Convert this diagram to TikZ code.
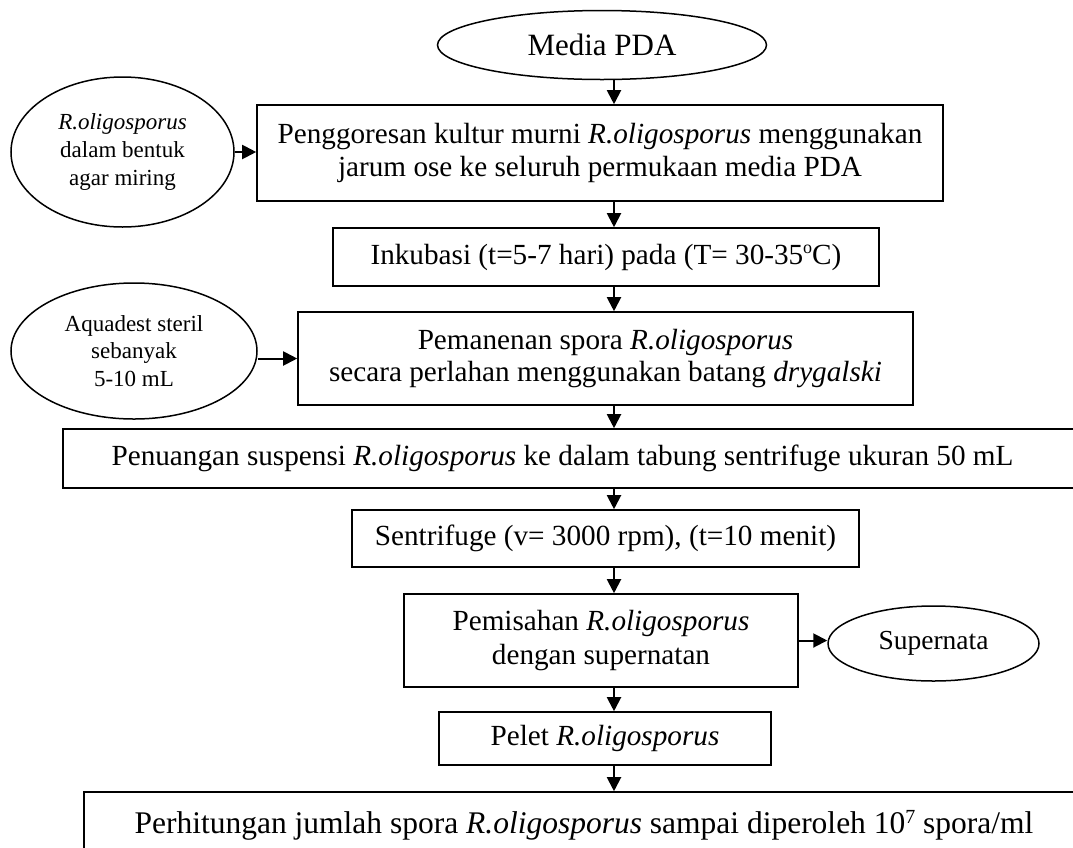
\documentclass[tikz,border=0pt]{standalone}
\usepackage{fontspec}
\setmainfont{Liberation Serif}
\usetikzlibrary{shapes.geometric,arrows.meta}
\tikzset{
  stepbox/.style={draw, line width=1.6pt, rectangle, inner sep=0pt, align=center,
    font=\fontsize{29.2}{32.5}\selectfont},
  oval/.style={draw, line width=1.5pt, ellipse, inner sep=0pt, align=center},
  arr/.style={line width=2pt, -{Triangle[length=14pt,width=14pt]}}
}
\begin{document}
\begin{tikzpicture}[x=1pt,y=-1pt]
\useasboundingbox (0,0) rectangle (1073,847);
\clip (0,0) rectangle (1073,847);
\coordinate (c) at (614,0);
\node[oval, minimum width=329pt, minimum height=69pt, font=\fontsize{31}{36}\selectfont] (media) at (602,45) {Media PDA};
\node[stepbox, minimum width=686pt, minimum height=96pt] (b1) at (600,153)
  {Penggoresan kultur murni \textit{R.oligosporus} menggunakan\\jarum ose ke seluruh permukaan media PDA};
\node[oval, minimum width=223pt, minimum height=150pt, font=\fontsize{23}{28}\selectfont] (e1) at (122.5,152)
  {\textit{R.oligosporus}\\dalam bentuk\\agar miring};
\node[stepbox, minimum width=546pt, minimum height=58pt] (b2) at (606,257)
  {Inkubasi (t=5-7 hari) pada (T= 30-35\raisebox{11pt}{\fontsize{18}{18}\selectfont o}C)};
\node[stepbox, minimum width=615pt, minimum height=93pt] (b3) at (605.5,358.5)
  {Pemanenan spora \textit{R.oligosporus}\\secara perlahan menggunakan batang \textit{drygalski}};
\node[oval, minimum width=246pt, minimum height=136pt, font=\fontsize{23}{27.5}\selectfont] (e2) at (134,351)
  {Aquadest steril\\sebanyak\\5-10 mL};
\node[stepbox, minimum width=1027pt, minimum height=59pt] (b4) at (576.5,458.5)
  {Penuangan suspensi \textit{R.oligosporus} ke dalam tabung sentrifuge ukuran 50 mL\hspace*{28pt}};
\node[stepbox, minimum width=507pt, minimum height=57pt] (b5) at (605.5,538.5)
  {Sentrifuge (v= 3000 rpm), (t=10 menit)};
\node[stepbox, minimum width=394pt, minimum height=93pt, font=\fontsize{29.2}{34.5}\selectfont] (b6) at (601,640.5)
  {Pemisahan \textit{R.oligosporus}\\dengan supernatan};
\node[oval, minimum width=211pt, minimum height=75pt, font=\fontsize{27.5}{32}\selectfont] (sup) at (933.5,643.5) {Supernata};
\node[stepbox, minimum width=332pt, minimum height=53pt] (b7) at (605,738.5)
  {Pelet \textit{R.oligosporus}};
\node[stepbox, minimum width=1016pt, minimum height=66pt, font=\fontsize{31.5}{36}\selectfont] (b8) at (592,825)
  {Perhitungan jumlah spora \textit{R.oligosporus} sampai diperoleh 10\raisebox{10pt}{\fontsize{20}{20}\selectfont 7} spora/ml\hspace*{16pt}};
\draw[arr] (media.south -| c) -- (b1.north -| c);
\draw[arr] (b1.south -| c) -- (b2.north -| c);
\draw[arr] (b2.south -| c) -- (b3.north -| c);
\draw[arr] (b3.south -| c) -- (b4.north -| c);
\draw[arr] (b4.south -| c) -- (b5.north -| c);
\draw[arr] (b5.south -| c) -- (b6.north -| c);
\draw[arr] (b6.south -| c) -- (b7.north -| c);
\draw[arr] (b7.south -| c) -- (b8.north -| c);
\draw[arr] (e1.east) -- (e1.east -| b1.west);
\draw[arr] (e2.east |- b3.west) -- (b3.west);
\draw[arr] (b6.east) -- (b6.east -| sup.west);
\end{tikzpicture}
\end{document}
